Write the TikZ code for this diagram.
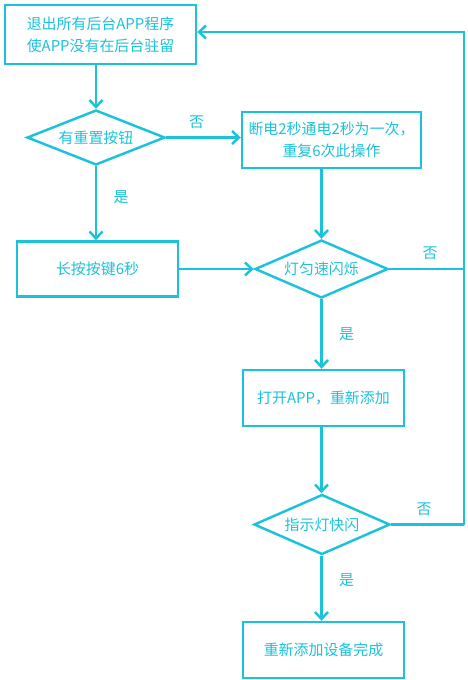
\documentclass[tikz,border=0pt]{standalone}
\usepackage{fontspec}
\setmainfont{Liberation Sans}
\newfontfamily\cjk{Noto Sans CJK SC}
\usetikzlibrary{arrows.meta, positioning, shapes.geometric}
\definecolor{ccyan}{HTML}{1CC2DA}
\tikzset{
  every picture/.style={font=\cjk\fontsize{8.5}{12.5}\selectfont, line width=1.4pt},
  box/.style={draw=ccyan, fill=white, align=center, text=ccyan, inner sep=2pt},
  decide/.style={diamond, draw=ccyan, text=ccyan, aspect=2.5, inner sep=0pt},
  arrow/.style={-{Straight Barb[length=1.4mm, width=2.6mm]}, draw=ccyan},
  line/.style={draw=ccyan},
  yesno/.style={text=ccyan, font=\cjk\fontsize{8.5}{10}\selectfont},
}

\begin{document}
\begin{tikzpicture}[x=0.02cm, y=-0.02cm]
  \useasboundingbox (0,0) rectangle (467,680);
  % top row: quit apps, reset button check, power cycling
  \node[box, minimum width=3.82cm, minimum height=1.18cm] (quit) at (100.5,34.5) {退出所有后台APP程序\\使APP没有在后台驻留};
  \node[decide, minimum width=2.76cm, minimum height=1.1cm] (reset) at (96,137.5) {有重置按钮};
  \node[box, minimum width=3.58cm, minimum height=1.12cm] (power) at (331.5,140) {断电2秒通电2秒为一次，\\重复6次此操作};
  % middle: long press and blinking check
  \node[box, minimum width=3.22cm, minimum height=1.1cm] (press) at (97.5,269) {长按按键6秒};
  \node[decide, minimum width=2.66cm, minimum height=1.16cm] (blink) at (321.5,269) {灯匀速闪烁};
  \node[box, minimum width=3.22cm, minimum height=1.12cm] (open) at (323.5,398) {打开APP，重新添加};
  \node[decide, minimum width=2.72cm, minimum height=1.2cm] (fast) at (322,524.5) {指示灯快闪};
  \node[box, minimum width=3.22cm, minimum height=1.12cm] (done) at (323.5,650) {重新添加设备完成};
  % return line on the right
  \coordinate (rt) at (464,32);
  \coordinate (rb) at (464,524.5);
  \coordinate (rm) at (464,269);
  \draw[arrow] (quit.south -| reset) -- (reset.north);
  \draw[arrow] (reset.east) -- (power.west |- reset.east) node[yesno, midway, above=1pt, xshift=-4pt] {否};
  \draw[arrow] (reset.south) -- (press.north -| reset) node[yesno, pos=0.42, right=6pt] {是};
  \draw[arrow] (press.east) -- (blink.west);
  \draw[arrow] (power.south -| blink) -- (blink.north);
  \draw[arrow] (blink.south) -- (open.north -| blink) node[yesno, midway, right=6pt] {是};
  \draw[arrow] (open.south -| blink) -- (fast.north -| blink);
  \draw[arrow] (fast.south -| blink) -- (done.north -| blink) node[yesno, pos=0.38, right=6pt] {是};
  \draw[line] (blink.east) -- (rm) node[yesno, midway, above=1pt, xshift=2pt] {否};
  \draw[line] (fast.east) -- (rb) node[yesno, midway, above=1pt, xshift=-2pt] {否};
  \draw[arrow] (rb) -- (rt) -- (quit.east |- rt);
\end{tikzpicture}
\end{document}
